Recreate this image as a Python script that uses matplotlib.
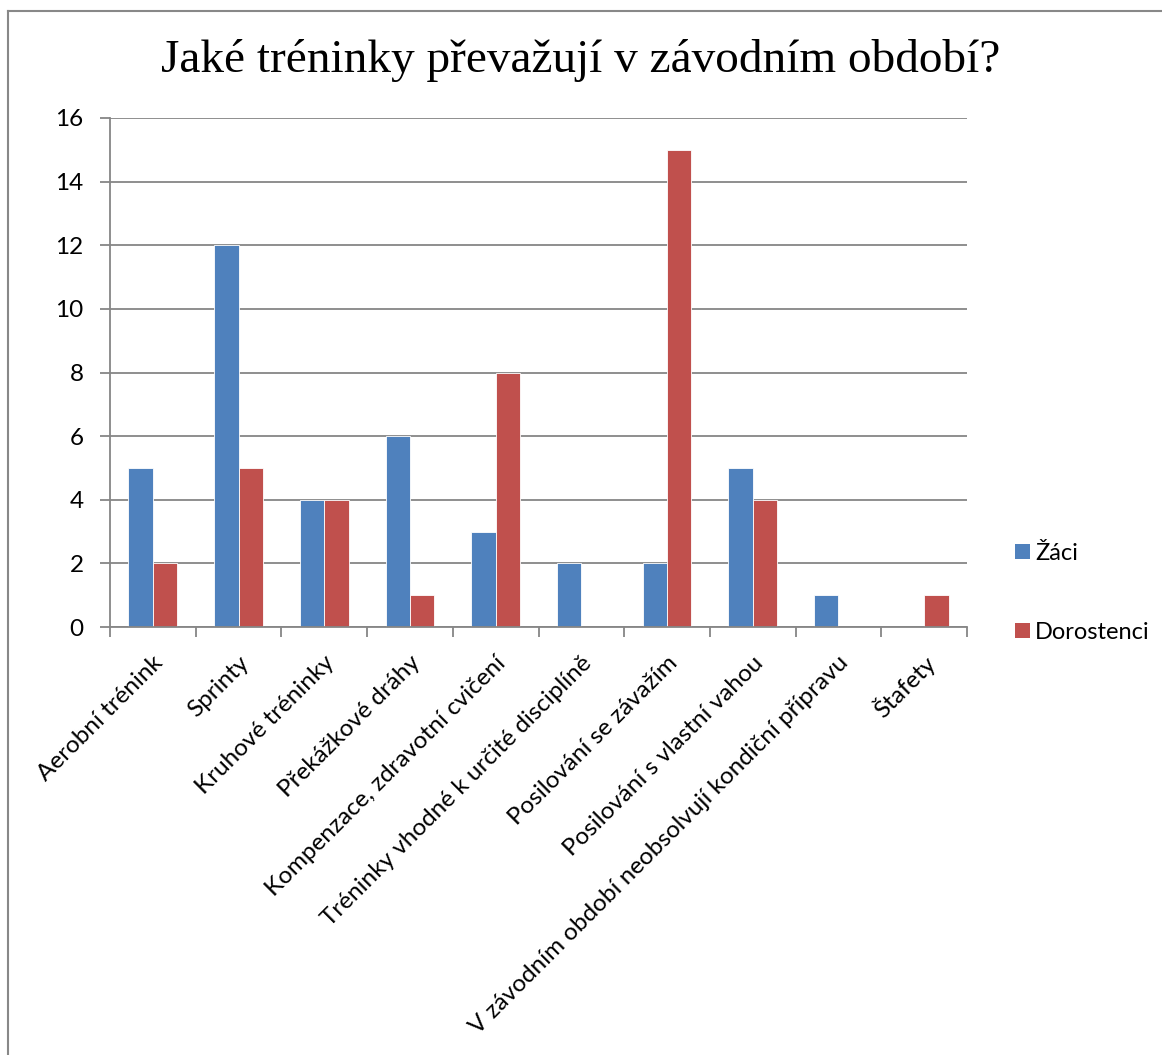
import matplotlib
matplotlib.use("Agg")
import matplotlib.pyplot as plt
import numpy as np
from matplotlib.patches import Patch
from matplotlib.lines import Line2D

categories = ["Aerobní trénink", "Sprinty", "Kruhové tréninky", "Překážkové dráhy",
              "Kompenzace, zdravotní cvičení", "Tréninky vhodné k určité disciplíně",
              "Posilování se závažím", "Posilování s vlastní vahou",
              "V závodním období neobsolvují kondiční přípravu", "Štafety"]
zaci = [5, 12, 4, 6, 3, 2, 2, 5, 1, 0]
dorostenci = [2, 5, 4, 1, 8, 0, 15, 4, 0, 1]
series_names = ["Žáci", "Dorostenci"]
title = "Jaké tréninky převažují v závodním období?"

blue = "#4F81BD"
red = "#C0504D"
grid_c = "#868686"
FS = 17.5

W, H = 1162, 1055
fig = plt.figure(figsize=(W / 100, H / 100), dpi=100)
ax = fig.add_axes([110 / W, 1 - 627 / H, (967 - 110) / W, (627 - 118) / H])

x = np.arange(len(categories))
bw = 0.285
ax.bar(x - bw / 2, zaci, bw, color=blue, edgecolor="white", linewidth=0.6, zorder=3)
ax.bar(x + bw / 2, dorostenci, bw, color=red, edgecolor="white", linewidth=0.6, zorder=3)

ax.set_xlim(-0.5, len(categories) - 0.5)
ax.set_ylim(0, 16)
ax.set_yticks(range(0, 17, 2))
ax.yaxis.grid(True, color=grid_c, linewidth=1.3, zorder=0)
ax.tick_params(axis="y", length=7, width=1.3, color=grid_c, labelsize=FS, pad=12)
for s in ["top", "right"]:
    ax.spines[s].set_visible(False)
for s in ["left", "bottom"]:
    ax.spines[s].set_color(grid_c)
    ax.spines[s].set_linewidth(1.3)
    ax.spines[s].set_zorder(4)

ax.set_xticks(np.arange(len(categories) + 1) - 0.5)
ax.set_xticklabels([])
ax.tick_params(axis="x", length=7, width=1.3, color=grid_c)
for i, c in enumerate(categories):
    ax.annotate(c, xy=(i, 0), xycoords=("data", "axes fraction"),
                xytext=(5, -23.5), textcoords="offset points",
                rotation=45, ha="right", va="center", rotation_mode="anchor",
                fontsize=FS, family="Lato")

for lbl in ax.get_yticklabels():
    lbl.set_family("Lato")

fig.text(0.5, 1 - 60 / H, title, ha="center", va="center",
         fontsize=34, family="Liberation Serif")

handles = [Patch(facecolor=blue, edgecolor="none"), Patch(facecolor=red, edgecolor="none")]
fig.legend(handles, series_names, loc="center left",
           bbox_to_anchor=(1015 / W, 1 - 593 / H), frameon=False,
           borderpad=0, borderaxespad=0,
           prop={"family": "Lato", "size": 17}, handlelength=0.62, handleheight=0.62,
           handletextpad=0.22, labelspacing=2.45)

# outer border (top and left visible)
fig.add_artist(Line2D([8 / W, 1], [1 - 11 / H, 1 - 11 / H], color="#888888", linewidth=1.5))
fig.add_artist(Line2D([8 / W, 8 / W], [0, 1 - 11 / H], color="#888888", linewidth=1.5))

fig.savefig("out.png", dpi=100, facecolor="white")
